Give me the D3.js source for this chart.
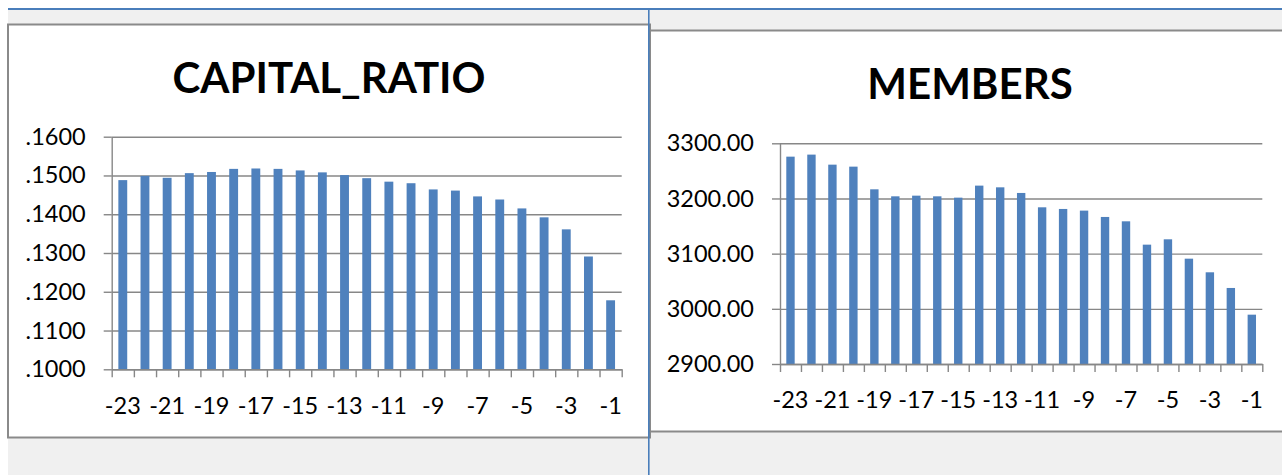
<!DOCTYPE html>
<html>
<head>
<meta charset="utf-8">
<script src="https://cdn.jsdelivr.net/npm/d3@7"></script>
<style>
  html, body { margin: 0; padding: 0; background: #fff; }
  svg { display: block; }
  text { font-family: Lato, "Open Sans", sans-serif; fill: #000; }
</style>
</head>
<body>
<div class="interactive"></div>
<script>
// periods before the event, shared by both charts
const PERIODS = [-23, -22, -21, -20, -19, -18, -17, -16, -15, -14, -13, -12,
  -11, -10, -9, -8, -7, -6, -5, -4, -3, -2, -1];

// values
const CAPITAL_RATIO = [.1488, .1499, .1494, .1506, .1509, .1517, .1518, .1517,
  .1513, .1508, .1501, .1493, .1484, .1480, .1464, .1461, .1446, .1438,
  .1415, .1392, .1361, .1291, .1178];
const MEMBERS = [3275.8, 3279.5, 3261.3, 3257.7, 3216.6, 3203.9, 3205.1,
  3203.9, 3201.5, 3223.3, 3220.2, 3210.0, 3184.0, 3181.0, 3178.0, 3166.5,
  3158.6, 3116.3, 3126.0, 3090.9, 3066.2, 3037.8, 2989.4];

const CAPITAL_TICKS = [.10, .11, .12, .13, .14, .15, .16];
const MEMBERS_TICKS = [2900, 3000, 3100, 3200, 3300];

const WIDTH = 1282;
const HEIGHT = 475;
const BAR_COLOR = "#4f81bd";
const GRID_COLOR = "#878787";
const FRAME_COLOR = "#8a8a8a";
const PANE_BLUE = "#4a7ebb";

const svg = d3.select(".interactive")
  .append("svg")
  .attr("width", WIDTH)
  .attr("height", HEIGHT);

// spreadsheet background behind the two chart objects
svg.append("rect").attr("width", WIDTH).attr("height", HEIGHT).attr("fill", "#fff");
svg.append("rect").attr("x", 8).attr("y", 9)
  .attr("width", WIDTH - 8).attr("height", HEIGHT - 9).attr("fill", "#f0f0f0");

// chart frames
svg.append("rect").attr("x", 8).attr("y", 24.5).attr("width", 642).attr("height", 413)
  .attr("fill", "#fff").attr("stroke", FRAME_COLOR).attr("stroke-width", 2);
svg.append("rect").attr("x", 650).attr("y", 30.5).attr("width", 660).attr("height", 401)
  .attr("fill", "#fff").attr("stroke", FRAME_COLOR).attr("stroke-width", 2);

// blue pane split lines
svg.append("rect").attr("x", 8).attr("y", 8).attr("width", WIDTH - 8).attr("height", 2)
  .attr("fill", PANE_BLUE);
svg.append("rect").attr("x", 648).attr("y", 8).attr("width", 1.6).attr("height", HEIGHT - 8)
  .attr("fill", PANE_BLUE);

function drawChart(opts) {
  const g = svg.append("g");

  const x = d3.scaleBand()
    .domain(PERIODS)
    .range([opts.left, opts.right])
    .paddingInner(0.6)
    .paddingOuter(0.3);

  // boundaries between categories, for the tick marks
  const xEdge = d3.scaleLinear()
    .domain([0, PERIODS.length])
    .range([opts.left, opts.right]);

  const y = d3.scaleLinear()
    .domain(d3.extent(opts.ticks))
    .range([opts.bottom, opts.top]);

  // gridlines
  g.append("g")
    .attr("transform", `translate(${opts.left},0)`)
    .call(d3.axisLeft(y).tickValues(opts.ticks).tickSize(-(opts.right - opts.left)).tickFormat(""))
    .call(a => a.select(".domain").remove())
    .call(a => a.selectAll("line").attr("stroke", GRID_COLOR).attr("stroke-width", 1.4));

  // y axis with outside ticks
  g.append("g")
    .attr("transform", `translate(${opts.left},0)`)
    .call(d3.axisLeft(y).tickValues(opts.ticks).tickSize(8).tickSizeOuter(0)
      .tickPadding(18).tickFormat(opts.format))
    .call(a => a.select(".domain").attr("stroke", GRID_COLOR).attr("stroke-width", 1.4))
    .call(a => a.selectAll("line").attr("stroke", GRID_COLOR).attr("stroke-width", 1.4))
    .call(a => a.selectAll("text").attr("font-size", 23.5).attr("font-family", "Lato").attr("fill", "#000"));

  // bars
  g.append("g")
    .selectAll("rect")
    .data(opts.values)
    .join("rect")
    .attr("x", (d, i) => x(PERIODS[i]))
    .attr("width", x.bandwidth())
    .attr("y", d => y(d))
    .attr("height", d => y(opts.ticks[0]) - y(d))
    .attr("fill", BAR_COLOR);

  // x axis line and tick marks at category edges
  g.append("g")
    .attr("transform", `translate(0,${opts.bottom})`)
    .call(d3.axisBottom(xEdge).tickValues(d3.range(PERIODS.length + 1)).tickSize(8)
      .tickSizeOuter(0).tickFormat(""))
    .call(a => a.select(".domain").attr("stroke", GRID_COLOR).attr("stroke-width", 1.4))
    .call(a => a.selectAll("line").attr("stroke", GRID_COLOR).attr("stroke-width", 1.4));

  // every other category label
  g.append("g")
    .selectAll("text")
    .data(PERIODS.filter(d => d % 2 !== 0))
    .join("text")
    .attr("x", d => x(d) + x.bandwidth() / 2)
    .attr("y", opts.bottom + opts.labelGap)
    .attr("text-anchor", "middle")
    .attr("dominant-baseline", "central")
    .attr("font-size", 23.5)
    .text(d => d);

  // title
  g.append("text")
    .attr("x", opts.titleX)
    .attr("y", opts.titleY)
    .attr("text-anchor", "middle")
    .attr("font-size", 42)
    .attr("font-weight", "bold")
    .text(opts.title);
}

drawChart({
  title: "CAPITAL_RATIO",
  titleX: 329,
  titleY: 93,
  values: CAPITAL_RATIO,
  ticks: CAPITAL_TICKS,
  format: d => d3.format(".4f")(d).replace(/^0/, ""),
  left: 111.7,
  right: 621.7,
  top: 136.7,
  bottom: 369.3,
  labelGap: 36
});

drawChart({
  title: "MEMBERS",
  titleX: 970,
  titleY: 99,
  values: MEMBERS,
  ticks: MEMBERS_TICKS,
  format: d3.format(".2f"),
  left: 780,
  right: 1262.3,
  top: 143.3,
  bottom: 364,
  labelGap: 35
});
</script>
</body>
</html>
